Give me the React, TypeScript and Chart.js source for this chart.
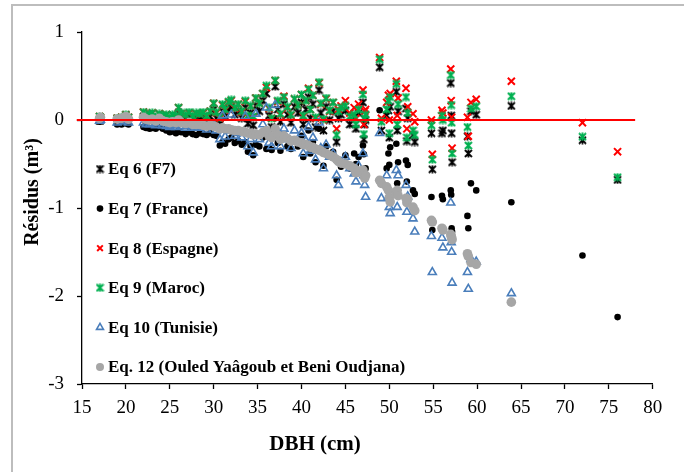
import React, { useEffect, useRef } from "react";
import { Chart, registerables } from "chart.js";
import { drawPoint } from "chart.js/helpers";

Chart.register(...registerables);

// DBH (cm) of each tree
const dbh = [
  17.0, 17.1, 19.0, 19.5, 20.0, 20.3, 22.0, 22.3, 22.7, 23.0,
  23.4, 23.8, 24.2, 24.6, 25.0, 25.3, 25.7, 26.0, 26.3, 26.8,
  27.2, 27.6, 28.0, 28.4, 28.8, 29.2, 29.6, 30.0, 30.3, 30.7,
  31.0, 31.3, 31.7, 32.0, 32.4, 32.8, 33.2, 33.6, 33.9, 34.2,
  34.5, 34.8, 35.2, 35.6, 36.0, 36.3, 36.6, 37.0, 37.3, 37.6,
  38.0, 38.4, 38.8, 39.2, 39.6, 40.0, 40.2, 40.5, 40.8, 41.0,
  41.3, 41.6, 42.0, 42.2, 42.5, 42.8, 43.2, 43.6, 44.0, 44.2,
  44.5, 45.0, 45.5, 46.0, 46.2, 46.5, 47.0, 47.1, 47.2, 47.3,
  48.9, 49.1, 49.7, 49.9, 50.0, 50.1, 50.8, 50.9, 51.0, 51.9,
  52.0, 52.1, 52.7, 52.9, 54.8, 54.9, 56.0, 56.1, 57.0, 57.05,
  57.1, 57.15, 58.9, 59.0, 59.3, 59.9, 63.9, 72.0, 76.0,
];

// Eq 6 (F7)
const eq6 = [
  -0.01, 0.00, -0.02, -0.01, 0.01, -0.02, 0.04, 0.00, 0.02, 0.03,
  -0.01, 0.02, 0.00, 0.01, -0.02, 0.01, -0.01, 0.08, 0.02, 0.00,
  0.03, -0.01, 0.02, 0.01, 0.03, -0.02, 0.04, 0.12, 0.02, -0.05,
  0.10, 0.04, 0.13, 0.15, 0.06, 0.10, 0.02, 0.14, -0.04, 0.08,
  -0.06, 0.16, 0.10, 0.22, 0.30, 0.05, -0.08, 0.38, 0.12, -0.02,
  0.18, 0.06, -0.03, 0.15, 0.08, 0.20, -0.05, 0.12, 0.26, 0.02,
  0.18, -0.08, 0.34, 0.08, -0.12, 0.15, 0.00, 0.10, -0.25, 0.02,
  0.06, 0.11, -0.05, 0.03, -0.10, 0.08, 0.20, -0.22, -0.05, 0.00,
  0.60, -0.12, 0.05, 0.11, -0.20, 0.15, 0.32, -0.12, 0.10, 0.13,
  -0.24, 0.02, -0.17, -0.25, -0.15, -0.56, -0.15, -0.12, 0.42, 0.05,
  -0.15, -0.48, -0.185, -0.38, 0.10, 0.06, 0.16, -0.23, -0.68,
];

// Eq 7 (France)
const eq7 = [
  -0.02, -0.01, -0.05, -0.05, -0.04, -0.05, -0.08, -0.09, -0.10, -0.09,
  -0.10, -0.08, -0.10, -0.12, -0.14, -0.13, -0.15, -0.12, -0.14, -0.16,
  -0.14, -0.16, -0.17, -0.15, -0.16, -0.17, -0.15, -0.17, -0.18, -0.29,
  -0.25, -0.27, -0.22, -0.20, -0.26, -0.24, -0.28, -0.25, -0.36, -0.30,
  -0.40, -0.28, -0.30, -0.20, -0.33, -0.32, -0.34, 0.02, -0.26, -0.35,
  -0.20, -0.30, -0.33, -0.22, -0.30, -0.18, -0.42, -0.28, -0.12, -0.38,
  -0.25, -0.48, -0.10, -0.35, -0.52, -0.30, -0.40, -0.36, -0.68, -0.45,
  -0.53, -0.40, -0.55, -0.38, -0.50, -0.42, -0.29, -0.39, -0.60, -0.55,
  0.11, -0.70, -0.55, -0.38, -0.51, -0.31, -0.27, -0.72, -0.48, -0.46,
  -0.70, -0.51, -0.80, -0.84, -0.875, -1.25, -0.86, -0.90, -0.80, -0.85,
  -1.23, -1.27, -1.09, -1.23, -0.72, -0.80, -0.935, -1.54, -2.24,
];

// Eq 8 (Espagne)
const eq8 = [
  0.04, 0.03, 0.02, 0.03, 0.06, 0.03, 0.09, 0.05, 0.07, 0.08,
  0.04, 0.07, 0.05, 0.06, 0.03, 0.06, 0.04, 0.14, 0.07, 0.05,
  0.08, 0.04, 0.07, 0.07, 0.08, 0.04, 0.10, 0.19, 0.08, 0.02,
  0.17, 0.11, 0.20, 0.22, 0.13, 0.18, 0.09, 0.21, 0.04, 0.16,
  0.03, 0.25, 0.19, 0.30, 0.37, 0.13, 0.02, 0.45, 0.21, 0.06,
  0.27, 0.14, 0.05, 0.24, 0.17, 0.29, 0.04, 0.22, 0.36, 0.12,
  0.28, 0.02, 0.42, 0.18, 0.00, 0.24, 0.10, 0.20, -0.10, 0.12,
  0.16, 0.22, 0.08, 0.14, 0.02, 0.18, 0.34, -0.05, 0.10, 0.12,
  0.71, 0.02, 0.20, 0.28, 0.00, 0.30, 0.44, 0.05, 0.25, 0.36,
  -0.10, 0.15, 0.07, -0.02, 0.00, -0.39, 0.11, 0.08, 0.58, 0.22,
  0.03, -0.32, 0.03, -0.185, 0.20, 0.235, 0.44, -0.03, -0.36,
];

// Eq 9 (Maroc)
const eq9 = [
  0.04, 0.03, 0.02, 0.03, 0.06, 0.03, 0.09, 0.05, 0.07, 0.08,
  0.04, 0.07, 0.05, 0.06, 0.03, 0.06, 0.05, 0.14, 0.08, 0.06,
  0.09, 0.05, 0.08, 0.07, 0.09, 0.05, 0.10, 0.19, 0.09, 0.03,
  0.18, 0.12, 0.21, 0.23, 0.14, 0.18, 0.10, 0.22, 0.05, 0.16,
  0.04, 0.25, 0.19, 0.30, 0.39, 0.14, 0.02, 0.45, 0.22, 0.07,
  0.26, 0.15, 0.06, 0.24, 0.17, 0.29, 0.05, 0.22, 0.35, 0.12,
  0.28, 0.03, 0.43, 0.19, 0.01, 0.25, 0.11, 0.20, -0.17, 0.10,
  0.14, 0.16, 0.04, 0.06, -0.05, 0.12, 0.29, -0.16, 0.02, 0.06,
  0.69, -0.02, 0.12, 0.22, -0.15, 0.26, 0.41, -0.05, 0.18, 0.26,
  -0.20, 0.08, -0.12, -0.17, -0.06, -0.45, 0.05, 0.00, 0.51, 0.17,
  -0.03, -0.38, -0.08, -0.29, 0.13, 0.155, 0.27, -0.19, -0.65,
];

// Eq 10 (Tunisie)
const eq10 = [
  -0.01, 0.00, -0.03, -0.02, -0.01, -0.03, -0.03, -0.05, -0.05, -0.04,
  -0.06, -0.04, -0.06, -0.07, -0.08, -0.06, -0.08, -0.04, -0.07, -0.09,
  -0.07, -0.09, -0.08, -0.09, -0.08, -0.11, -0.07, -0.06, -0.12, -0.22,
  0.05, -0.19, -0.12, 0.06, -0.18, -0.15, -0.20, 0.04, -0.30, -0.22,
  -0.37, 0.07, -0.22, -0.05, 0.14, -0.26, -0.30, 0.17, -0.14, -0.30,
  -0.10, -0.22, -0.32, -0.12, -0.25, -0.15, -0.38, -0.24, -0.08, -0.35,
  -0.20, -0.45, -0.03, -0.32, -0.55, -0.28, -0.42, -0.38, -0.63, -0.74,
  -0.48, -0.42, -0.55, -0.61, -0.70, -0.52, -0.38, -0.63, -0.74, -0.875,
  -0.15, -0.89, -0.63, -0.875, -0.99, -1.06, -0.57, -0.99, -0.63, -0.74,
  -1.045, -0.87, -1.12, -1.27, -1.32, -1.73, -1.34, -1.45, -0.94, -1.39,
  -1.50, -1.85, -1.73, -1.92, -1.58, -1.61, -1.97, null, null,
];

// Eq. 12 (Ouled Yaâgoub et Beni Oudjana)
const eq12 = [
  0.02, 0.03, 0.01, 0.02, 0.04, 0.01, 0.03, 0.01, 0.00, 0.01,
  -0.01, 0.02, -0.01, -0.02, -0.03, -0.02, -0.03, 0.00, -0.03, -0.04,
  -0.03, -0.05, -0.05, -0.05, -0.06, -0.07, -0.06, -0.07, -0.08, -0.10,
  -0.09, -0.10, -0.10, -0.11, -0.12, -0.12, -0.13, -0.14, -0.15, -0.15,
  -0.17, -0.16, -0.17, -0.14, -0.12, -0.18, -0.20, -0.10, -0.17, -0.22,
  -0.18, -0.21, -0.24, -0.23, -0.25, -0.26, -0.28, -0.28, -0.29, -0.31,
  -0.31, -0.33, -0.34, -0.35, -0.37, -0.38, -0.40, -0.42, -0.45, -0.47,
  -0.49, -0.50, -0.52, -0.55, -0.60, -0.58, -0.57, -0.62, -0.66, -0.63,
  -0.685, -0.72, -0.76, -0.80, -0.88, -0.93, -0.84, -0.80, -0.86, -0.89,
  -0.94, -0.90, -0.99, -1.03, -1.14, -1.16, -1.23, -1.25, -1.30, -1.32,
  -1.34, -1.36, -1.52, -1.55, -1.62, -1.64, -2.07, null, null,
];

// zero reference line (DBH range)
const zeroLineX = [14.4, 78];

const xTicks = { min: 15, max: 80, step: 5 };
const yTicks = { min: -3, max: 1, step: 1 };

const legendLabels = [
  "Eq 6 (F7)",
  "Eq 7 (France)",
  "Eq 8 (Espagne)",
  "Eq 9 (Maroc)",
  "Eq 10 (Tunisie)",
  "Eq. 12 (Ouled Yaâgoub et Beni Oudjana)",
];

const xTitle = "DBH (cm)";
const yTitle = "Résidus (m³)";

const SERIF = '"Liberation Serif", "Times New Roman", serif';

function makeAsterisk(color: string, size: number, lw: number) {
  const c = document.createElement("canvas");
  c.width = size;
  c.height = size;
  const g = c.getContext("2d")!;
  g.strokeStyle = color;
  g.lineWidth = lw;
  const p = 1;
  g.beginPath();
  g.moveTo(p, p);
  g.lineTo(size - p, size - p);
  g.moveTo(size - p, p);
  g.lineTo(p, size - p);
  g.moveTo(size / 2, 0.5);
  g.lineTo(size / 2, size - 0.5);
  g.stroke();
  return c;
}

function pts(values: (number | null)[]) {
  const out: { x: number; y: number }[] = [];
  dbh.forEach((x, i) => {
    const v = values[i];
    if (v !== null && v !== undefined) out.push({ x, y: v });
  });
  return out;
}

export default function App() {
  const ref = useRef<HTMLCanvasElement | null>(null);

  useEffect(() => {
    const canvas = ref.current;
    if (!canvas) return;

    const blackStar = makeAsterisk("#000000", 9, 1.8);
    const greenStar = makeAsterisk("#00b050", 9, 2.0);

    const styles = [
      { pointStyle: blackStar, radius: 4.5, borderWidth: 0, backgroundColor: "#000000", borderColor: "#000000" },
      { pointStyle: "circle", radius: 3.3, borderWidth: 0, backgroundColor: "#000000", borderColor: "#000000" },
      { pointStyle: "crossRot", radius: 5, borderWidth: 2, backgroundColor: "#ff0000", borderColor: "#ff0000" },
      { pointStyle: greenStar, radius: 4.5, borderWidth: 0, backgroundColor: "#00b050", borderColor: "#00b050" },
      { pointStyle: "triangle", radius: 4.6, borderWidth: 1.6, backgroundColor: "rgba(0,0,0,0)", borderColor: "#4a7ebb" },
      { pointStyle: "circle", radius: 4.8, borderWidth: 0, backgroundColor: "#a6a6a6", borderColor: "#a6a6a6" },
    ];
    const seriesValues = [eq6, eq7, eq8, eq9, eq10, eq12];

    const datasets: any[] = seriesValues.map((vals, i) => ({
      type: "scatter",
      label: legendLabels[i],
      data: pts(vals),
      pointStyle: styles[i].pointStyle,
      pointRadius: styles[i].radius,
      pointBorderWidth: styles[i].borderWidth,
      pointBackgroundColor: styles[i].backgroundColor,
      pointBorderColor: styles[i].borderColor,
      showLine: false,
      order: 10 - i,
    }));

    datasets.push({
      type: "line",
      label: "zero",
      data: zeroLineX.map((x) => ({ x, y: 0 })),
      borderColor: "#ff0000",
      borderWidth: 2,
      pointRadius: 0,
      clip: false,
      order: 0,
    });

    const overlay = {
      id: "legendAndTitles",
      afterDraw(chart: any) {
        const ctx = chart.ctx as CanvasRenderingContext2D;
        const legendX = 100;
        const legendTop = 169;
        const legendStep = 39.6;

        ctx.save();
        legendLabels.forEach((_, i) => {
          const y = legendTop + i * legendStep;
          const s = styles[i];
          ctx.fillStyle = s.backgroundColor;
          ctx.strokeStyle = s.borderColor;
          ctx.lineWidth = s.borderWidth;
          drawPoint(
            ctx,
            {
              pointStyle: s.pointStyle as any,
              radius: Math.min(s.radius, 4),
              rotation: 0,
              borderWidth: s.borderWidth,
            } as any,
            legendX,
            y
          );
        });
        ctx.font = `bold 17px ${SERIF}`;
        ctx.fillStyle = "#000";
        ctx.textBaseline = "middle";
        ctx.textAlign = "left";
        legendLabels.forEach((lab, i) => {
          ctx.fillText(lab, legendX + 8, legendTop + i * legendStep + 1);
        });
        ctx.restore();

        ctx.save();
        ctx.fillStyle = "#000";
        ctx.font = `bold 21px ${SERIF}`;
        ctx.textAlign = "center";
        ctx.textBaseline = "middle";
        ctx.fillText(xTitle, 315, 445);
        ctx.translate(33, 192);
        ctx.rotate(-Math.PI / 2);
        ctx.font = `bold 20px ${SERIF}`;
        ctx.fillText(yTitle, 0, 0);
        ctx.restore();
      },
    };

    const axisGrid = {
      display: true,
      drawOnChartArea: false,
      drawTicks: true,
      tickLength: 5,
      tickColor: "#000",
      tickWidth: 1.3,
    };

    const chart = new Chart(canvas, {
      type: "scatter",
      data: { datasets },
      options: {
        responsive: false,
        animation: false,
        devicePixelRatio: 1,
        layout: { padding: { left: 0, right: 31.3, top: 32, bottom: 0 } },
        plugins: {
          legend: { display: false },
          tooltip: { enabled: false },
        },
        scales: {
          x: {
            type: "linear",
            min: xTicks.min,
            max: xTicks.max,
            ticks: {
              stepSize: xTicks.step,
              color: "#000",
              font: { family: SERIF, size: 19 },
              padding: 8,
              maxRotation: 0,
            },
            grid: axisGrid,
            border: { display: true, color: "#000", width: 1.3 },
            afterFit(scale: any) {
              scale.height = 88;
            },
          },
          y: {
            type: "linear",
            min: yTicks.min,
            max: yTicks.max,
            ticks: {
              stepSize: yTicks.step,
              color: "#000",
              font: { family: SERIF, size: 19 },
              padding: 13,
            },
            grid: axisGrid,
            border: { display: true, color: "#000", width: 1.3 },
            afterFit(scale: any) {
              scale.width = 82;
            },
          },
        },
      } as any,
      plugins: [overlay],
    });

    return () => chart.destroy();
  }, []);

  return (
    <div
      style={{
        position: "fixed",
        left: 0,
        top: 0,
        width: 684,
        height: 472,
        overflow: "hidden",
        background: "#ffffff",
      }}
    >
      <div
        style={{
          position: "absolute",
          left: 11,
          top: 4,
          width: 720,
          height: 520,
          border: "2px solid #bdbdbd",
        }}
      />
      <canvas
        ref={ref}
        width={684}
        height={472}
        style={{ position: "absolute", left: 0, top: 0, width: 684, height: 472 }}
      />
    </div>
  );
}
